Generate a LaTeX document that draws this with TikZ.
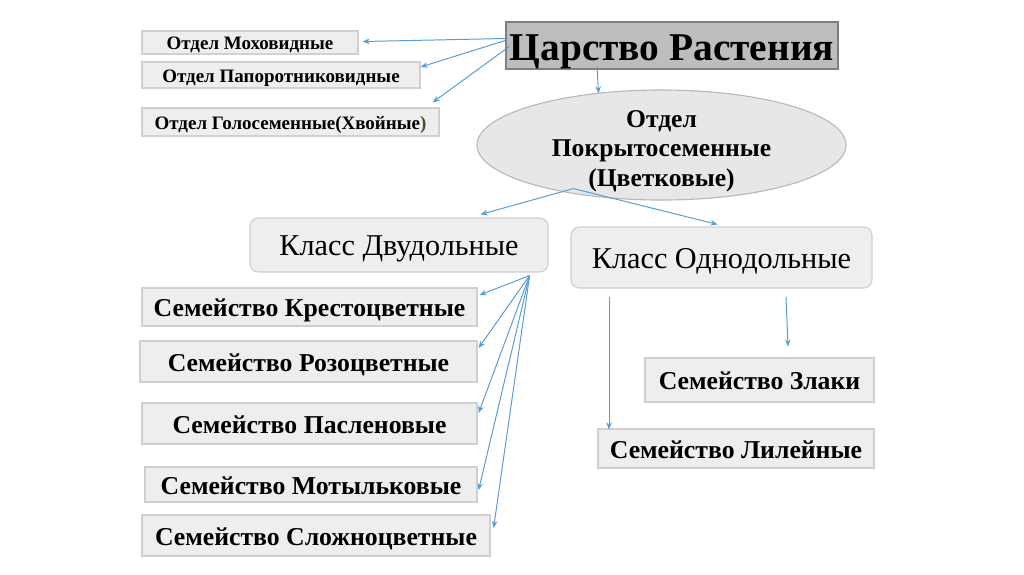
\documentclass[tikz,border=0pt]{standalone}
\usepackage{fontspec}
\setmainfont{Liberation Serif}
\usepackage{xcolor}
\usepackage{tikz}
\usetikzlibrary{shapes,arrows.meta,positioning,calc}

\definecolor{linkblue}{HTML}{5B9BD5}
\definecolor{boxfill}{HTML}{EEEEEE}
\definecolor{boxline}{HTML}{D0D0D0}
\definecolor{kingfill}{HTML}{BDBDBD}
\definecolor{kingline}{HTML}{808080}
\definecolor{ovalfill}{HTML}{E7E7E7}
\definecolor{ovalline}{HTML}{B8B8B8}
\definecolor{darkolive}{HTML}{385723}

\tikzset{
  famBox/.style={rectangle, fill=boxfill, draw=boxline, line width=0.8pt, inner sep=0pt,
    text height=13.5pt, text depth=0pt,
    font=\fontsize{18.3}{21}\selectfont\bfseries},
  divBox/.style={famBox, text height=10.3pt, text depth=0pt,
    font=\fontsize{13.5}{16}\selectfont\bfseries},
  classBox/.style={rectangle, rounded corners=6pt, fill=boxfill, draw=boxline, line width=0.8pt,
    inner sep=0pt, text height=15pt, text depth=0pt, font=\fontsize{21.5}{24}\selectfont},
  link/.style={draw=linkblue, line width=0.7pt, -{Stealth[length=5pt,width=4pt]}}
}

\begin{document}
\begin{tikzpicture}[x=0.025cm, y=-0.025cm]

\useasboundingbox (0,0) rectangle (1024,574);

% Kingdom
\node[rectangle, fill=kingfill, draw=kingline, line width=0.9pt, inner sep=0pt,
  minimum width=8.3cm, minimum height=1.175cm, text height=21.3pt, text depth=0pt,
  font=\fontsize{28}{32}\selectfont\bfseries]
  (tsar) at (672,45.5) {Царство Растения};

% Divisions
\node[divBox, minimum width=5.4cm, minimum height=0.575cm] (mox) at (250,42.5) {Отдел Моховидные};
\node[divBox, minimum width=6.95cm, minimum height=0.65cm] (pap) at (281,75) {Отдел Папоротниковидные};
\node[divBox, minimum width=7.425cm, minimum height=0.7cm] (gol) at (290.5,122)
  {Отдел Голосеменные(Хвойные\textcolor{darkolive}{)}};

% Flowering plants
\node[ellipse, fill=ovalfill, draw=ovalline, line width=0.8pt, inner sep=0pt,
  minimum width=9.225cm, minimum height=2.75cm] (pokr) at (661.5,145) {};
\node[align=center, inner sep=0pt, font=\fontsize{18.2}{21.1}\selectfont\bfseries]
  (pokrtext) at (661.5,151) {Отдел\\Покрытосеменные\\(Цветковые)};

% Classes
\node[classBox, minimum width=7.45cm, minimum height=1.35cm] (dvu) at (399,245) {Класс Двудольные};
\node[classBox, minimum width=7.525cm, minimum height=1.525cm] (odn) at (721.5,257.5) {Класс Однодольные};

% Families of dicots
\node[famBox, minimum width=8.375cm, minimum height=0.95cm] (krest) at (309.5,307) {Семейство Крестоцветные};
\node[famBox, minimum width=8.425cm, minimum height=1.025cm] (roz) at (308.5,361.5) {Семейство Розоцветные};
\node[famBox, minimum width=8.375cm, minimum height=1.025cm] (pasl) at (309.5,423.5) {Семейство Пасленовые};
\node[famBox, minimum width=8.3cm, minimum height=0.875cm] (motyl) at (311,484.5) {Семейство Мотыльковые};
\node[famBox, minimum width=8.7cm, minimum height=1.025cm] (slozh) at (316,535.5) {Семейство Сложноцветные};

% Families of monocots
\node[famBox, minimum width=5.725cm, minimum height=1.1cm] (zlaki) at (759.5,380) {Семейство Злаки};
\node[famBox, minimum width=6.9cm, minimum height=0.975cm] (lil) at (736,448.5) {Семейство Лилейные};

% Arrows from the kingdom
\draw[link] ($(tsar.west)+(0,-7)$) -- ($(mox.east)+(4,-1)$);
\draw[link] ($(tsar.west)+(0,-5)$) -- ($(pap.east)+(0,-8)$);
\draw[link] ($(tsar.west)+(4,1)$) -- ($(gol.north east)+(-7,-5)$);
\draw[link] ($(tsar.south)+(-75,-3)$) -- ($(pokr.north)+(-63,4)$);

% Arrows to the classes
\coordinate (pokrfoot) at ($(pokr.south)+(-88,-12)$);
\draw[link] (pokrfoot) -- ($(dvu.north east)+(-68,-3)$);
\draw[link] (pokrfoot) -- ($(odn.north)+(-4,-2)$);

% Fan of dicot families
\coordinate (dvufan) at ($(dvu.south east)+(-19,3)$);
\draw[link] (dvufan) -- ($(krest.east)+(2,-12)$);
\draw[link] (dvufan) -- ($(roz.east)+(1,-13.5)$);
\draw[link] (dvufan) -- ($(pasl.east)+(1,-10.5)$);
\draw[link] (dvufan) -- ($(motyl.east)+(1,5.5)$);
\draw[link] (dvufan) -- ($(slozh.east)+(3,-7.5)$);

% Monocot families
\draw[link] ($(odn.south)+(-112.5,8)$) -- ($(lil.north)+(-127,1)$);
\draw[link] ($(odn.south)+(64.5,8)$) -- ($(zlaki.north)+(28.5,-11)$);

\end{tikzpicture}
\end{document}
